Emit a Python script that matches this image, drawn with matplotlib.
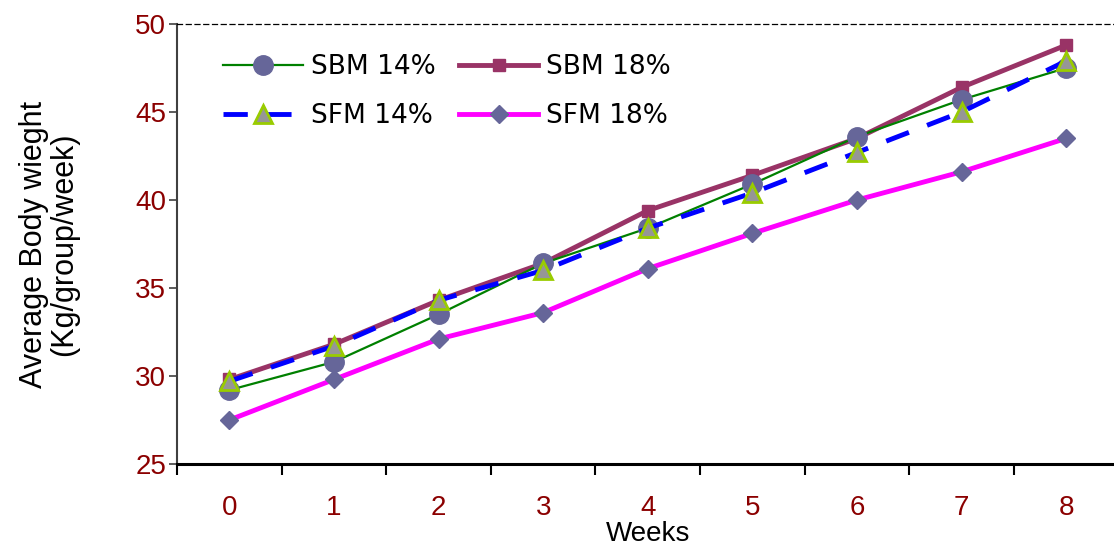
import matplotlib
matplotlib.use('Agg')
import matplotlib.pyplot as plt
from matplotlib.ticker import MultipleLocator, FixedLocator

# データ
weeks = [0, 1, 2, 3, 4, 5, 6, 7, 8]
sbm14 = [29.2, 30.8, 33.5, 36.4, 38.4, 40.9, 43.6, 45.7, 47.5]
sbm18 = [29.8, 31.8, 34.3, 36.4, 39.4, 41.4, 43.5, 46.4, 48.8]
sfm14 = [29.7, 31.7, 34.3, 36.0, 38.4, 40.4, 42.7, 45.0, 47.9]
sfm18 = [27.5, 29.8, 32.1, 33.6, 36.1, 38.1, 40.0, 41.6, 43.5]

tick_font = ['Liberation Sans', 'DejaVu Sans']
tick_color = '#8B0000'

fig = plt.figure(figsize=(11.14, 5.53), dpi=100)
ax = fig.add_axes([0.159, 0.161, 0.845, 0.7956])

l1, = ax.plot(weeks, sbm14, color='#008000', lw=1.6, marker='o', ms=14,
              mfc='#666699', mec='#666699', label='SBM 14%', zorder=3)
l2, = ax.plot(weeks, sbm18, color='#993366', lw=3.5, marker='s', ms=9,
              mfc='#993366', mec='#993366', label='SBM 18%', zorder=2)
l3, = ax.plot(weeks, sfm14, color='#0000FF', lw=3.5, ls=(0, (5, 4)), marker='^', ms=13,
              mfc='#969696', mec='#99CC00', mew=2, label='SFM 14%', zorder=4)
l4, = ax.plot(weeks, sfm18, color='#FF00FF', lw=3.5, marker='D', ms=9,
              mfc='#666699', mec='#666699', label='SFM 18%', zorder=2)

ax.set_xlim(-0.5, 8.5)
ax.set_ylim(25, 50)
ax.yaxis.set_major_locator(MultipleLocator(5))

# x軸: 目盛り線はカテゴリ境界、ラベルは中央
ax.set_xticks(weeks)
ax.xaxis.set_minor_locator(FixedLocator([w - 0.5 for w in weeks] + [8.5]))
ax.tick_params(axis='x', which='major', length=0, pad=22)
ax.tick_params(axis='x', which='minor', length=8, width=1.5, direction='out', color='black')
ax.tick_params(axis='y', which='major', length=6, width=1.2, direction='out', color='#404040', pad=2)

for lab in ax.get_xticklabels() + ax.get_yticklabels():
    lab.set_family(tick_font)
    lab.set_fontsize(20)
    lab.set_color(tick_color)

ax.spines['right'].set_visible(False)
ax.spines['top'].set_linestyle((0, (4, 3)))
ax.spines['top'].set_linewidth(0.9)
ax.spines['left'].set_color('#404040')
ax.spines['left'].set_linestyle((0, (5, 1)))
ax.spines['left'].set_linewidth(1.5)
ax.spines['bottom'].set_linewidth(2.2)

ax.set_xlabel('Weeks', fontsize=20, family=tick_font, labelpad=0)
ax.set_ylabel('Average Body wieght\n(Kg/group/week)', fontsize=22, family=tick_font,
              linespacing=1.0, labelpad=40)

# 凡例は行ごとに並べる
ax.legend([l1, l3, l2, l4], ['SBM 14%', 'SFM 14%', 'SBM 18%', 'SFM 18%'],
          loc='upper left', ncol=2, frameon=False, fontsize=19,
          bbox_to_anchor=(0.024, 0.985), handlelength=3.0, columnspacing=0.9,
          handletextpad=0.3, labelspacing=0.85)

plt.savefig('out.png', dpi=100)
